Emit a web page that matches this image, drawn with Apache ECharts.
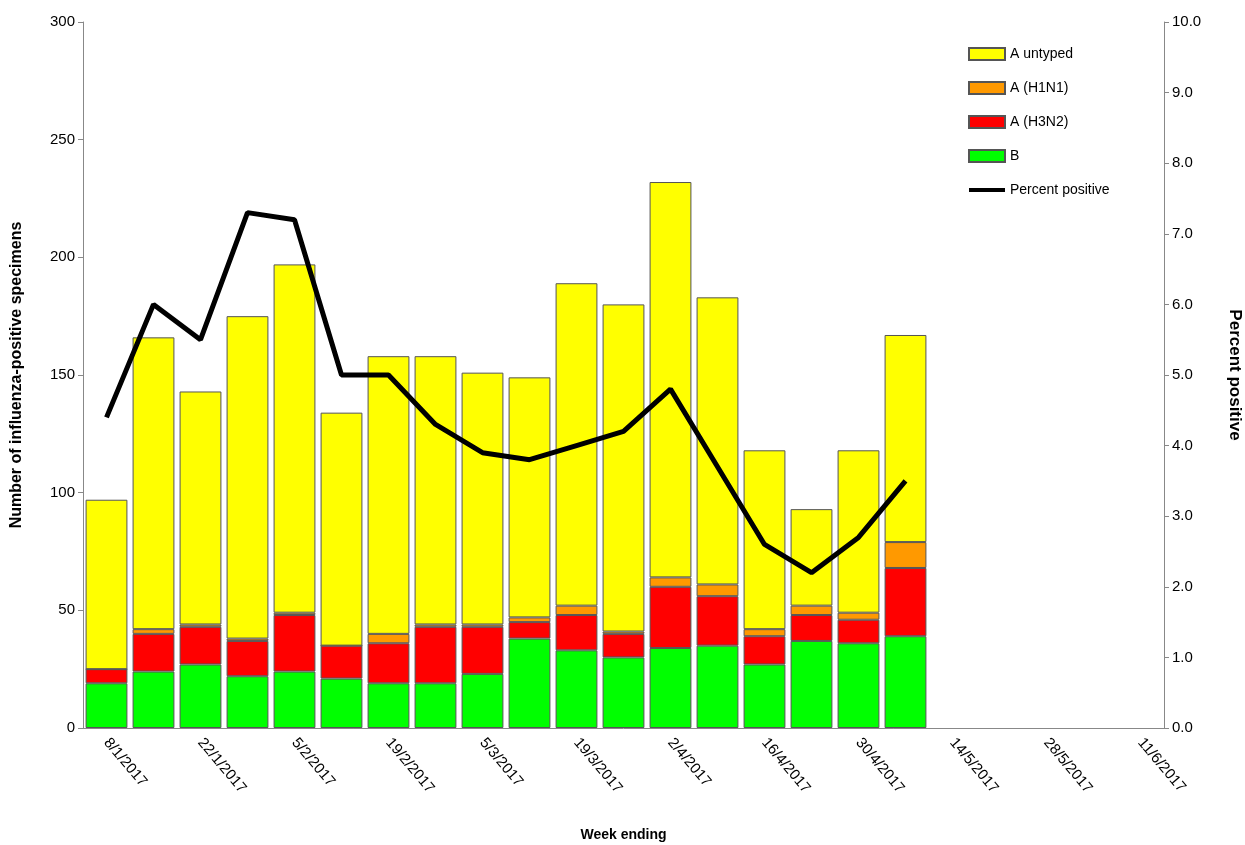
<!DOCTYPE html>
<html>
<head>
<meta charset="utf-8">
<script src="https://cdn.jsdelivr.net/npm/echarts@6/dist/echarts.min.js"></script>
<style>html,body{margin:0;padding:0;background:#fff}#chart{width:1245px;height:845px}</style>
</head>
<body>
<div id="chart"></div>
<script>
var weeks = ['8/1/2017','15/1/2017','22/1/2017','29/1/2017','5/2/2017','12/2/2017','19/2/2017','26/2/2017',
  '5/3/2017','12/3/2017','19/3/2017','26/3/2017','2/4/2017','9/4/2017','16/4/2017','23/4/2017','30/4/2017',
  '7/5/2017','14/5/2017','21/5/2017','28/5/2017','4/6/2017','11/6/2017'];
var fluB = [19,24,27,22,24,21,19,19,23,38,33,30,34,35,27,37,36,39];
var fluH3N2 = [6,16,16,15,24,14,17,24,20,7,15,10,26,21,12,11,10,29];
var fluH1N1 = [0,2,1,1,1,0,4,1,1,2,4,1,4,5,3,4,3,11];
var fluUntyped = [72,124,99,137,148,99,118,114,107,102,137,139,168,122,76,41,69,88];
var percentPositive = [4.4,6.0,5.5,7.3,7.2,5.0,5.0,4.3,3.9,3.8,4.0,4.2,4.8,3.7,2.6,2.2,2.7,3.5];

var chart = echarts.init(document.getElementById('chart'));
var font = 'Liberation Sans';
function barSeries(name, data, color) {
  return {
    name: name, type: 'bar', stack: 'flu', data: data, barCategoryGap: '11%',
    itemStyle: {color: color, borderColor: '#555', borderWidth: 1}
  };
}
var option = {
  textStyle: {fontFamily: font},
  grid: {left: 83, right: 81, top: 22, bottom: 117, outerBoundsMode: 'none'},
  legend: {
    orient: 'vertical', left: 963, top: 42, itemGap: 20, itemWidth: 36, itemHeight: 12,
    textStyle: {fontSize: 14, color: '#000'},
    data: [
      {name: 'A untyped', icon: 'rect'}, {name: 'A (H1N1)', icon: 'rect'},
      {name: 'A (H3N2)', icon: 'rect'}, {name: 'B', icon: 'rect'},
      {name: 'Percent positive', icon: 'path://M0,4 L36,4 L36,8 L0,8 Z', itemStyle: {color: '#000'}}
    ]
  },
  xAxis: {
    type: 'category', data: weeks,
    name: 'Week ending', nameLocation: 'middle', nameGap: 100,
    nameTextStyle: {fontWeight: 'bold', fontSize: 14, color: '#000'},
    axisLine: {lineStyle: {color: '#888'}},
    axisTick: {alignWithLabel: false, lineStyle: {color: '#888'}},
    axisLabel: {interval: 1, rotate: -50, fontSize: 15, color: '#000', margin: 12}
  },
  yAxis: [
    {
      type: 'value', min: 0, max: 300, interval: 50,
      name: 'Number of influenza-positive specimens', nameLocation: 'middle', nameGap: 58,
      nameTextStyle: {fontWeight: 'bold', fontSize: 16, color: '#000'},
      axisLine: {show: true, lineStyle: {color: '#888'}},
      axisTick: {show: true, lineStyle: {color: '#888'}},
      axisLabel: {fontSize: 15, color: '#000'},
      splitLine: {show: false}
    },
    {
      type: 'value', min: 0, max: 10, interval: 1,
      name: 'Percent positive', nameLocation: 'middle', nameGap: 62, nameRotate: -90,
      nameTextStyle: {fontWeight: 'bold', fontSize: 17, color: '#000'},
      axisLine: {show: true, lineStyle: {color: '#888'}},
      axisTick: {show: true, lineStyle: {color: '#888'}},
      axisLabel: {fontSize: 15, color: '#000', formatter: function (v) { return v.toFixed(1); }},
      splitLine: {show: false}
    }
  ],
  series: [
    barSeries('B', fluB, '#00ff00'),
    barSeries('A (H3N2)', fluH3N2, '#ff0000'),
    barSeries('A (H1N1)', fluH1N1, '#ff9900'),
    barSeries('A untyped', fluUntyped, '#ffff00'),
    {
      name: 'Percent positive', type: 'line', yAxisIndex: 1, data: percentPositive,
      symbol: 'none', lineStyle: {color: '#000', width: 5}, itemStyle: {color: '#000'}
    }
  ]
};
chart.setOption(option);
</script>
</body>
</html>
